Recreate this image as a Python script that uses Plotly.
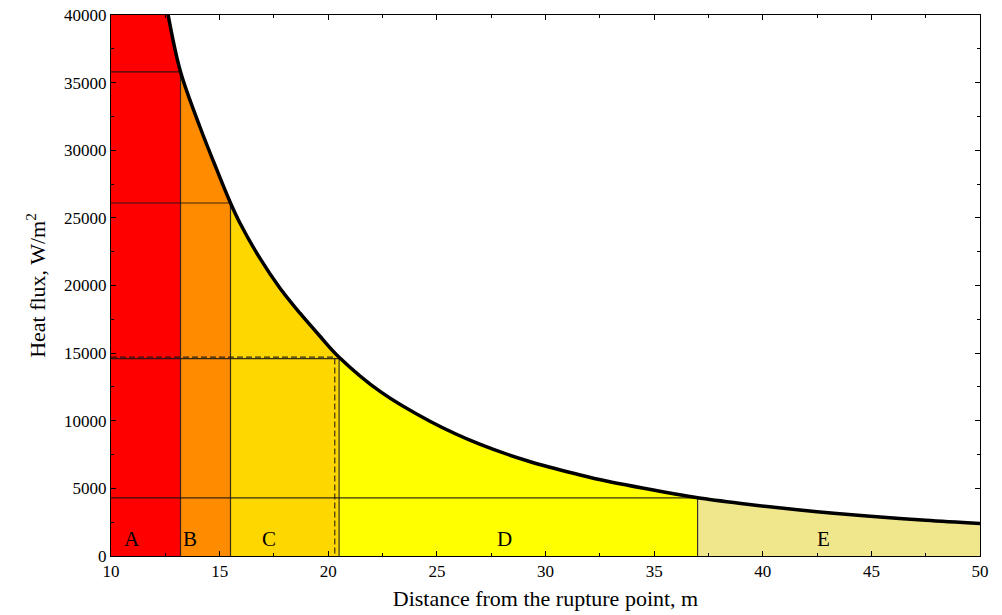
import plotly.graph_objects as go

# ---- data ----
curve_x = [12.63, 13.2, 14.1, 14.86, 15.5, 15.94, 16.86, 17.78, 18.7, 19.62, 20.5,
           22.4, 24.7, 27.0, 29.3, 31.6, 32.8, 35.9, 37.0, 39.0, 40.2, 42.5, 44.8, 47.5, 50.0]
curve_q = [40000, 35800, 31700, 28600, 26100, 24600, 22000, 19800, 17950, 16250, 14700,
           12150, 9950, 8250, 6970, 5990, 5540, 4600, 4300, 3880, 3660, 3280, 2960, 2640, 2400]

zone_names = ["A", "B", "C", "D", "E"]
zone_bounds = [10.0, 13.2, 15.5, 20.5, 37.0, 50.0]
zone_colors = ["#FF0000", "#FF8C00", "#FFD700", "#FFFF00", "#F0E68C"]
threshold_q = [35800, 26100, 14600, 4300]      # heat flux at zone boundaries
dashed_x = 20.3
dashed_q = 14700

label_x = [10.97, 13.64, 17.27, 28.1, 42.8]
label_q = [1250, 1250, 1250, 1250, 1250]

x_range = [10, 50]
y_range = [0, 40000]

font_family = "Liberation Serif, Times New Roman, serif"

fig = go.Figure()

# zone fills
for i, name in enumerate(zone_names):
    x0, x1 = zone_bounds[i], zone_bounds[i + 1]
    xs = [x for x in curve_x if x0 - 1e-9 <= x <= x1 + 1e-9]
    qs = [q for x, q in zip(curve_x, curve_q) if x0 - 1e-9 <= x <= x1 + 1e-9]
    shape = "spline"
    if i == 0:
        xs = [x0] + xs
        qs = [y_range[1]] + qs
        shape = "linear"
    fig.add_trace(go.Scatter(x=xs, y=qs, mode="lines", fill="tozeroy",
                             fillcolor=zone_colors[i],
                             line=dict(width=0, color=zone_colors[i], shape=shape),
                             hoverinfo="skip", showlegend=False))

line_col = "rgba(20,20,20,0.85)"
# horizontal threshold lines from x=10 to the zone boundary, and vertical lines
for k, q in enumerate(threshold_q):
    xb = zone_bounds[k + 1]
    fig.add_trace(go.Scatter(x=[x_range[0], xb], y=[q, q], mode="lines",
                             line=dict(color=line_col, width=1.2),
                             hoverinfo="skip", showlegend=False))
    fig.add_trace(go.Scatter(x=[xb, xb], y=[0, q], mode="lines",
                             line=dict(color=line_col, width=1.2),
                             hoverinfo="skip", showlegend=False))

# dashed lines
fig.add_trace(go.Scatter(x=[x_range[0], dashed_x, dashed_x], y=[dashed_q, dashed_q, 0],
                         mode="lines", line=dict(color=line_col, width=1.2, dash="6px,3px"),
                         hoverinfo="skip", showlegend=False))

# main curve
fig.add_trace(go.Scatter(x=curve_x, y=curve_q, mode="lines",
                         line=dict(color="black", width=3.5, shape="spline"),
                         hoverinfo="skip", showlegend=False))

for name, lx, lq in zip(zone_names, label_x, label_q):
    fig.add_annotation(x=lx, y=lq, text=name, showarrow=False,
                       font=dict(family=font_family, size=21, color="black"))

axis_common = dict(showline=True, linecolor="black", linewidth=1, mirror="allticks",
                   ticks="inside", ticklen=5, tickcolor="black", showgrid=False,
                   zeroline=False, automargin=False, tickformat="d",
                   tickfont=dict(family=font_family, size=17, color="black"))

fig.update_xaxes(range=x_range, dtick=5, tick0=10,
                 minor=dict(dtick=2.5, ticks="inside", ticklen=3, tickcolor="black"),
                 title=dict(text="Distance from the rupture point, m",
                            font=dict(family=font_family, size=22, color="black"),
                            standoff=10),
                 **axis_common)
fig.update_yaxes(range=y_range, dtick=5000, tick0=0,
                 minor=dict(dtick=2500, ticks="inside", ticklen=3, tickcolor="black"),
                 title=dict(text="Heat flux, W/m<sup>2</sup>",
                            font=dict(family=font_family, size=22, color="black"),
                            standoff=12),
                 **axis_common)

fig.update_layout(width=1002, height=615,
                  margin=dict(l=111, r=22, t=15, b=59),
                  plot_bgcolor="white", paper_bgcolor="white",
                  showlegend=False)

fig.write_html("out.html")
